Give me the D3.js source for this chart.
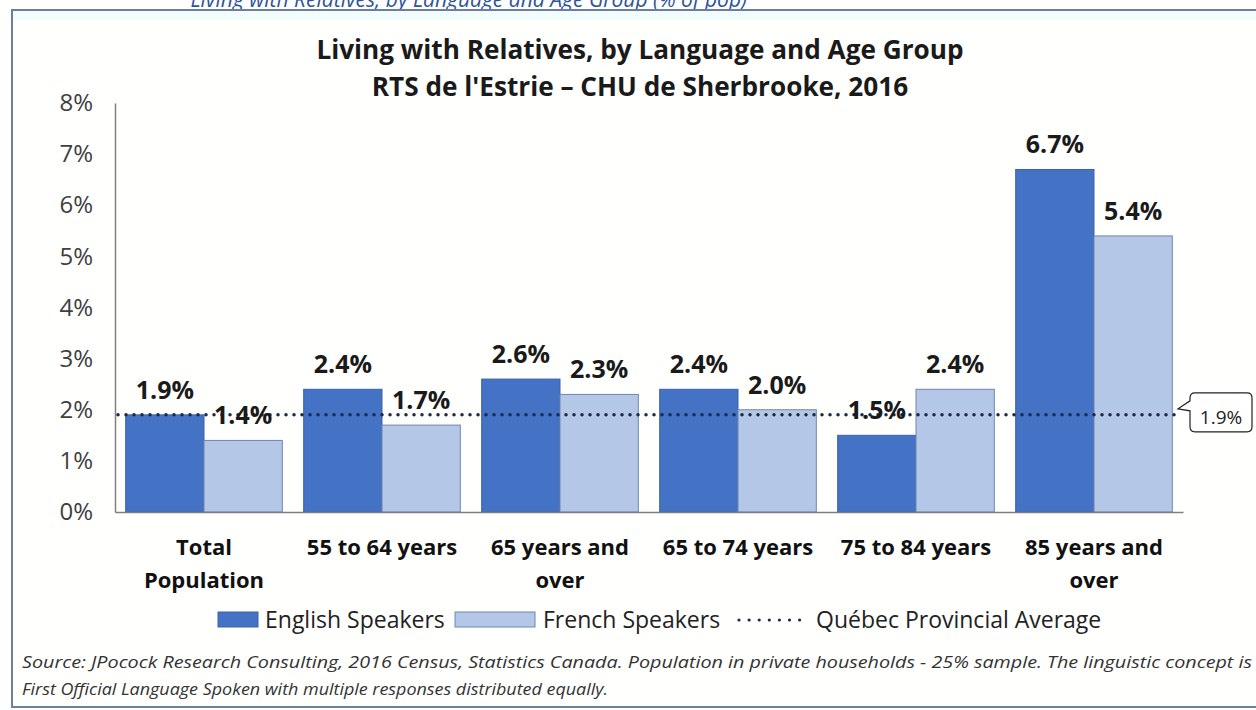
<!DOCTYPE html>
<html>
<head>
<meta charset="utf-8">
<script src="https://cdn.jsdelivr.net/npm/d3@7"></script>
<style>
  body { margin: 0; background: #fff; }
  svg { display: block; font-family: "Open Sans", sans-serif; }
</style>
</head>
<body>
<svg id="chart" width="1256" height="710"></svg>
<script>
// data
const groups = [["Total", "Population"], ["55 to 64 years"], ["65 years and", "over"],
                ["65 to 74 years"], ["75 to 84 years"], ["85 years and", "over"]];
const english = [1.9, 2.4, 2.6, 2.4, 1.5, 6.7];
const french = [1.4, 1.7, 2.3, 2.0, 2.4, 5.4];
const provincialAvg = 1.9;
const yTicks = [0, 1, 2, 3, 4, 5, 6, 7, 8];
const seriesNames = ["English Speakers", "French Speakers"];

const svg = d3.select("#chart");
const blue = "#4472c4", light = "#b4c7e7";

// frame + caption (cut off at top, as in the original)
svg.append("text").attr("x", 747).attr("y", 7).attr("text-anchor", "end")
    .attr("fill", "#2f5597").attr("font-style", "italic").attr("font-size", 21)
    .text("Living with Relatives, by Language and Age Group (% of pop)");
svg.append("rect").attr("x", 12).attr("y", 10).attr("width", 1250).attr("height", 697)
    .attr("fill", "#fffffe").attr("stroke", "#6c7fa0").attr("stroke-width", 2);
svg.append("rect").attr("x", 13).attr("y", 11).attr("width", 1248).attr("height", 9)
    .attr("fill", "#f2fcfd");

// title
const title = svg.append("text").attr("text-anchor", "middle").attr("font-weight", "bold")
    .attr("font-size", 26.2).attr("fill", "#1a1a1a");
title.append("tspan").attr("x", 640).attr("y", 59).text("Living with Relatives, by Language and Age Group");
title.append("tspan").attr("x", 640).attr("y", 96).text("RTS de l'Estrie – CHU de Sherbrooke, 2016");

const x0 = d3.scaleBand().domain(d3.range(groups.length)).range([115, 1183])
    .paddingInner(0.12).paddingOuter(0.06);
const x1 = d3.scaleBand().domain([0, 1]).range([0, x0.bandwidth()]);
const y = d3.scaleLinear().domain([0, 8]).range([512, 103]);

// y axis
const yAxis = svg.append("g").attr("transform", "translate(115,0)")
    .call(d3.axisLeft(y).tickValues(yTicks).tickSize(0).tickPadding(22).tickFormat(d => d + "%"));
yAxis.select(".domain").attr("stroke", "#7f7f7f").attr("stroke-width", 1.5);
yAxis.selectAll("text").attr("font-size", 24).attr("fill", "#404040")
    .attr("font-family", "Open Sans, sans-serif");

// bars
const g = svg.append("g");
[english, french].forEach((vals, s) => {
  g.selectAll(".bar" + s).data(vals).join("rect")
    .attr("x", (d, i) => x0(i) + x1(s))
    .attr("y", d => y(d))
    .attr("width", x1.bandwidth())
    .attr("height", d => y(0) - y(d))
    .attr("fill", s ? light : blue)
    .attr("stroke", s ? "#6f86b0" : "#3a62aa").attr("stroke-width", 1);
});

// x axis
const xAxis = svg.append("g").attr("transform", "translate(0,512)")
    .call(d3.axisBottom(x0).tickSize(0).tickFormat(""));
xAxis.select(".domain").attr("stroke", "#7f7f7f").attr("stroke-width", 1.5);
const catLabels = svg.append("g").selectAll("text").data(groups).join("text")
    .attr("text-anchor", "middle").attr("font-weight", "bold").attr("font-size", 22)
    .attr("fill", "#111");
catLabels.each(function(d, i) {
  d.forEach((line, k) => {
    d3.select(this).append("tspan").attr("x", x0(i) + x0.bandwidth() / 2)
      .attr("y", 555 + k * 33).text(line);
  });
});

// provincial average dotted line
svg.append("line").attr("x1", 118).attr("x2", 1178)
    .attr("y1", y(provincialAvg)).attr("y2", y(provincialAvg))
    .attr("stroke", "#1c2845").attr("stroke-width", 3.5)
    .attr("stroke-linecap", "round").attr("stroke-dasharray", "0 8");

// value labels
[english, french].forEach((vals, s) => {
  svg.append("g").selectAll("text").data(vals).join("text")
    .attr("x", (d, i) => x0(i) + x1(s) + x1.bandwidth() / 2)
    .attr("y", d => y(d) - 16)
    .attr("text-anchor", "middle").attr("font-weight", "bold").attr("font-size", 25)
    .attr("fill", "#1a1a1a")
    .text(d => d.toFixed(1) + "%");
});

// callout for average
const cy = y(provincialAvg);
svg.append("path")
    .attr("d", `M1190,${cy - 17} q0,-5 5,-5 h52 q5,0 5,5 v29 q0,5 -5,5 h-52 q-5,0 -5,-5 v-16 l-12,-2 l12,-8 z`)
    .attr("fill", "#fff").attr("stroke", "#222").attr("stroke-width", 1.2);
svg.append("text").attr("x", 1221).attr("y", cy + 9).attr("text-anchor", "middle")
    .attr("font-size", 19).attr("fill", "#222").text(provincialAvg.toFixed(1) + "%");

// legend
const lg = svg.append("g").attr("font-size", 23).attr("fill", "#222");
lg.append("rect").attr("x", 218).attr("y", 612).attr("width", 40).attr("height", 15)
  .attr("fill", blue).attr("stroke", "#3a62aa");
lg.append("text").attr("x", 265).attr("y", 628).text(seriesNames[0]);
lg.append("rect").attr("x", 455).attr("y", 612).attr("width", 80).attr("height", 15)
  .attr("fill", light).attr("stroke", "#6f86b0");
lg.append("text").attr("x", 543).attr("y", 628).text(seriesNames[1]);
lg.append("line").attr("x1", 739).attr("x2", 800).attr("y1", 620).attr("y2", 620)
  .attr("stroke", "#1c2845").attr("stroke-width", 3.2).attr("stroke-linecap", "round")
  .attr("stroke-dasharray", "0 10.1");
lg.append("text").attr("x", 816).attr("y", 628).text("Québec Provincial Average");

// source note
const src = svg.append("g").attr("font-style", "italic").attr("font-size", 16).attr("fill", "#333");
src.append("text").attr("x", 22).attr("y", 668).attr("textLength", 1230)
  .attr("lengthAdjust", "spacingAndGlyphs")
  .text("Source: JPocock Research Consulting, 2016 Census, Statistics Canada. Population in private households - 25% sample. The linguistic concept is");
src.append("text").attr("x", 22).attr("y", 695).attr("textLength", 586)
  .attr("lengthAdjust", "spacingAndGlyphs")
  .text("First Official Language Spoken with multiple responses distributed equally.");
</script>
</body>
</html>
